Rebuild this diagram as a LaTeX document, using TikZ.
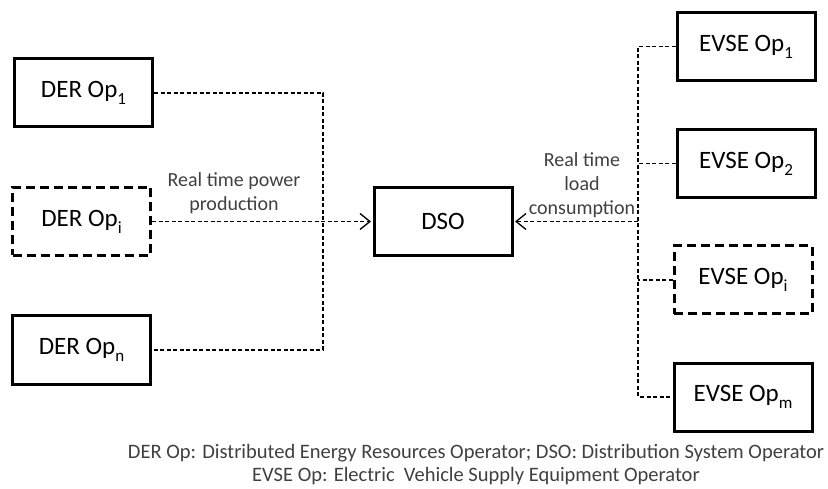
\documentclass[tikz,border=0pt]{standalone}
\usepackage{fontspec}
\setmainfont{Carlito}
\usetikzlibrary{arrows.meta}
% lowered index after "Op"
\newcommand\subidx[1]{\raisebox{-0.28em}{\fontsize{17}{17}\selectfont #1}}

\begin{document}
\begin{tikzpicture}[x=1pt,y=-1pt,
  opbox/.style={draw, line width=3pt, minimum width=138pt, minimum height=68pt,
                inner sep=0pt, font=\fontsize{25}{30}\selectfont},
  optbox/.style={opbox, dash pattern=on 9pt off 5pt},
  link/.style={line width=1.3pt, dash pattern=on 4pt off 2.5pt},
  flow/.style={link, shorten >=1.5pt,
               -{Straight Barb[length=10pt,width=16pt,line width=1.3pt]}},
  note/.style={text=black!75, font=\fontsize{20}{24}\selectfont, align=center},
]
\useasboundingbox (0,0) rectangle (828,489);

% operators on the generation side
\node[opbox]  (der1) at (83.5,93)    {DER Op\subidx{1}};
\node[optbox] (deri) at (81.5,221.5) {DER Op\subidx{i}};
\node[opbox]  (dern) at (81.5,350)   {DER Op\subidx{n}};

% distribution system operator
\node[opbox]  (dso)  at (443,221.5)  {DSO};

% operators on the charging side
\node[opbox]  (ev1)  at (746,46.5)   {EVSE Op\subidx{1}};
\node[opbox]  (ev2)  at (746,163.5)  {EVSE Op\subidx{2}};
\node[optbox] (evi)  at (743,280)    {EVSE Op\subidx{i}};
\node[opbox]  (evm)  at (743,397)    {EVSE Op\subidx{m}};

% left collector
\coordinate (ltop) at (323,93);
\coordinate (lbot) at (323,350);
\draw[link] (der1.east) -- (ltop) -- (lbot) -- (dern.east);
\draw[flow] (deri.east) -- (dso.west);

% right collector
\coordinate (rtop) at (638,46.5);
\coordinate (rbot) at (638,397);
\coordinate (rmid) at (638,221.5);
\draw[link] (ev1.west) -- (rtop) -- (rbot) -- (evm.west);
\draw[link] (ev2.west) -- (ev2.west -| rtop);
\draw[link] (evi.west) -- (evi.west -| rtop);
\draw[flow] (rmid) -- (dso.east);

% flow labels
\node[note] (lblp) at (234,193) {Real time power\\production};
\node[note] (lbll) at (582,185) {Real time\\load\\consumption};

% legend (base anchor sits on the second line)
\node[note, font=\fontsize{20.5}{23}\selectfont, anchor=base] (legend) at (476,481)
  {DER Op: Distributed Energy Resources Operator; DSO: Distribution System Operator\\
   EVSE Op: Electric\ \ Vehicle Supply Equipment Operator};
\end{tikzpicture}
\end{document}
